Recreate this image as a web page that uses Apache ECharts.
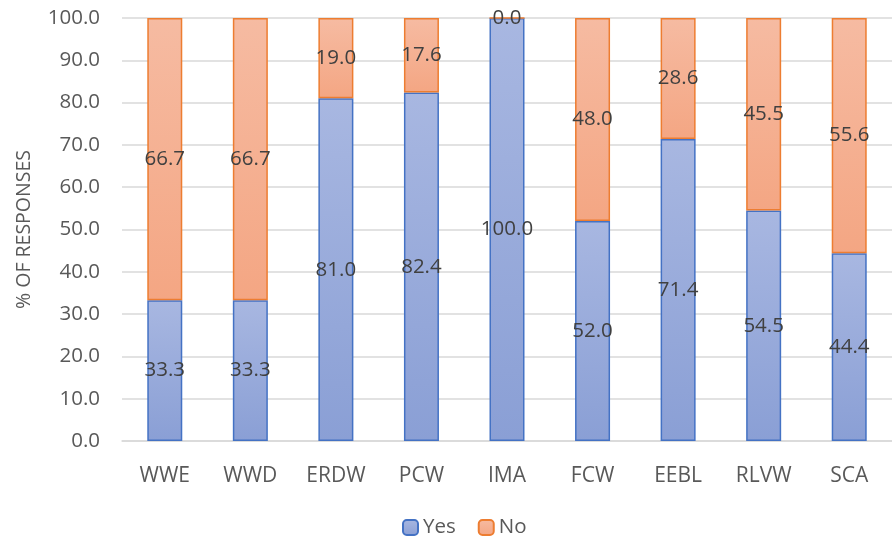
<!DOCTYPE html>
<html><head><meta charset="utf-8">
<script src="https://cdn.jsdelivr.net/npm/echarts@6/dist/echarts.min.js"></script>
<style>html,body{margin:0;padding:0;background:#fff}#c{width:892px;height:539px}</style>
</head><body><div id="c"></div>
<script>
const categories = ['WWE','WWD','ERDW','PCW','IMA','FCW','EEBL','RLVW','SCA'];
const yesValues = [33.3,33.3,81.0,82.4,100.0,52.0,71.4,54.5,44.4];
const noValues = [66.7,66.7,19.0,17.6,0.0,48.0,28.6,45.5,55.6];
const yTicks = [0,10,20,30,40,50,60,70,80,90,100];

const chart = echarts.init(document.getElementById('c'), null, {renderer:'canvas'});
const lbl = {show:true, position:'inside', color:'#404040', fontSize:20.5, fontFamily:'Open Sans, sans-serif',
  formatter: p => p.value.toFixed(1)};
chart.setOption({
  animation:false,
  textStyle:{fontFamily:'Open Sans, sans-serif'},
  grid:{left:122, right:-2, top:18, bottom:98, containLabel:false},
  legend:{top:512, left:397, itemWidth:15, itemHeight:15, itemGap:22,
    textStyle:{color:'#595959', fontSize:20.5}, data:['Yes','No']},
  xAxis:{type:'category', data:categories, axisTick:{show:false},
    axisLine:{lineStyle:{color:'#d9d9d9', width:1.5}},
    axisLabel:{color:'#595959', fontSize:21, margin:25}},
  yAxis:{type:'value', min:0, max:100, interval:10, name:'% OF RESPONSES',
    nameLocation:'middle', nameGap:88, nameTextStyle:{color:'#595959', fontSize:19.5},
    axisLine:{show:false}, axisTick:{show:false},
    splitLine:{lineStyle:{color:'#d9d9d9', width:1.5}},
    axisLabel:{color:'#595959', fontSize:20.5, margin:22, formatter:v=>v.toFixed(1)}},
  series:[
    {name:'Yes', type:'bar', stack:'a', data:yesValues, barWidth:35,
     itemStyle:{color:new echarts.graphic.LinearGradient(0,0,0,1,[{offset:0,color:'#a8b7e1'},{offset:1,color:'#8a9fd5'}]),
       borderColor:'#4472c4', borderWidth:1.5},
     label:lbl},
    {name:'No', type:'bar', stack:'a', data:noValues, barWidth:35,
     itemStyle:{color:new echarts.graphic.LinearGradient(0,0,0,1,[{offset:0,color:'#f6bba2'},{offset:1,color:'#f4a683'}]),
       borderColor:'#ed7d31', borderWidth:1.5},
     label:lbl}
  ]
});
</script></body></html>
